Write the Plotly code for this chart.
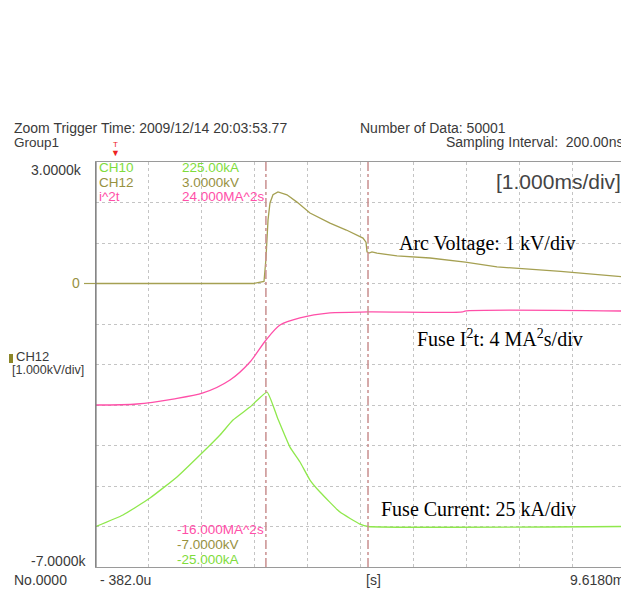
import plotly.graph_objects as go

# ---------------- data (time in ms) ----------------
volt_t = [-0.382, 1.0, 2.60, 2.794, 2.83, 2.87, 2.907, 2.964, 3.058, 3.228, 3.417, 3.663,
          4.041, 4.35, 4.609, 4.665, 4.722, 4.741, 4.779, 4.835, 4.93, 5.308, 5.932,
          6.6, 7.198, 8.4, 9.618]
volt_kv = [0.0, 0.0, 0.0, 0.05, 0.6, 1.57, 1.99, 2.19, 2.26, 2.19, 2.01, 1.74,
           1.49, 1.32, 1.15, 1.12, 1.02, 0.78, 0.75, 0.78, 0.75, 0.68, 0.63,
           0.53, 0.41, 0.30, 0.16]

i2t_t = [-0.382, 0.393, 1.074, 1.641, 2.151, 2.529, 2.832, 3.096, 3.474, 4.041, 4.76, 6.55, 6.59, 9.618]
i2t_v = [0.0, 0.1, 0.59, 1.19, 2.47, 4.25, 6.42, 7.9, 8.6, 9.09, 9.19, 9.19, 9.28, 9.28]

cur_t = [-0.382, 0.128, 0.639, 1.149, 1.641, 1.962, 2.208, 2.529, 2.851, 3.05, 3.285,
         3.474, 3.663, 3.852, 4.23, 4.608, 4.76, 9.618]
cur_ka = [0.0, 7.1, 17.6, 30.6, 46.0, 56.5, 65.7, 73.7, 83.0, 67.0, 49.0,
          39.8, 28.7, 21.3, 8.9, 1.5, 0.0, 0.0]

cursor_t = [2.83, 4.76]

x_range = [-0.382, 9.618]
v_range = [-7, 3]
i_range = [-25, 225]
q_range = [-16, 24]

GREEN = "#8fe84c"
GREEN_T = "#7fdc3c"
OLIVE = "#a5a052"
OLIVE_T = "#97913f"
PINK = "#ff4fa8"
GRAY_T = "#3a3a3a"
SANS = "Liberation Sans"
SERIF = "Liberation Serif"

# page offset (browser body margin)
OFF = 8
W, H = 629, 594
L, R, T, B = 96, 625, 162, 567   # plot area in window pixels

fig = go.Figure()
fig.add_trace(go.Scatter(x=cur_t, y=cur_ka, yaxis="y2", mode="lines",
                         line=dict(color=GREEN, width=1.3, shape="spline", smoothing=0.4),
                         hoverinfo="skip"))
fig.add_trace(go.Scatter(x=i2t_t, y=i2t_v, yaxis="y3", mode="lines",
                         line=dict(color=PINK, width=1.3, shape="spline", smoothing=0.8),
                         hoverinfo="skip"))
fig.add_trace(go.Scatter(x=volt_t, y=volt_kv, mode="lines",
                         line=dict(color=OLIVE, width=1.3), hoverinfo="skip"))

for ct in cursor_t:
    fig.add_vline(x=ct, line=dict(color="#c98f8f", width=1.5, dash="dashdot"), layer="above")


def px(x):
    return (x - L) / (R - L)


def py(y):
    return (B - y) / (B - T)


# zero marker line on left
fig.add_shape(type="line", xref="paper", yref="y", x0=px(84), x1=0, y0=0, y1=0,
              line=dict(color=OLIVE, width=1.2))
# darker left frame edge
fig.add_shape(type="line", xref="paper", yref="paper", x0=0, x1=0, y0=0, y1=1,
              line=dict(color="#7a7a7a", width=1.2))
# CH12 colour marker
fig.add_shape(type="rect", xref="paper", yref="paper", x0=px(9), x1=px(13),
              y0=py(363), y1=py(354), fillcolor="#8c8628", line=dict(width=0))

ann = []


def A(text, x, y, color=GRAY_T, size=13, xanchor="left", family=SANS):
    ann.append(dict(text=text, x=px(x), y=py(y), xref="paper", yref="paper",
                    xanchor=xanchor, yanchor="middle", showarrow=False, align="left",
                    font=dict(family=family, size=size, color=color)))


A("Zoom Trigger Time: 2009/12/14 20:03:53.77", 12, 128, size=14)
A("Group1", 12, 142, size=13.5)
A("Number of Data: 50001", 358, 128, size=14)
A("Sampling Interval:  200.00ns", 625, 142, size=14, xanchor="right")
A("T", 115, 145, color="#ee2222", size=8, xanchor="center")
A("▼", 115, 153, color="#ee2222", size=9, xanchor="center")

A("3.0000k", 84, 170, size=14, xanchor="right")
A("0", 82, 283, color=OLIVE_T, size=14, xanchor="right")
A("CH12", 14, 356, size=13)
A("[1.000kV/div]", 10, 370, size=12.5)
A("-7.0000k", 88, 561, size=14, xanchor="right")
A("No.0000", 12, 580, size=14)
A("- 382.0u", 98, 580, size=14)
A("[s]", 373, 580, size=14, xanchor="center")
A("9.6180m", 626, 580, size=14, xanchor="right")

A("CH10", 97, 167, color=GREEN_T, size=13.5)
A("225.00kA", 180, 167, color=GREEN_T, size=13.5)
A("CH12", 97, 182, color=OLIVE_T, size=13.5)
A("3.0000kV", 180, 182, color=OLIVE_T, size=13.5)
A("i^2t", 97, 196, color=PINK, size=13.5)
A("24.000MA^2s", 180, 196, color=PINK, size=13.5)
A("-16.000MA^2s", 175, 529, color=PINK, size=13.5)
A("-7.0000kV", 175, 544, color=OLIVE_T, size=13.5)
A("-25.000kA", 175, 559, color=GREEN_T, size=13.5)

A("[1.000ms/div]", 623, 181, size=21, xanchor="right", color="#444444")

A("Arc Voltage: 1 kV/div", 397, 243, color="#000000", size=20, family=SERIF)
A("Fuse I<sup>2</sup>t: 4 MA<sup>2</sup>s/div", 415, 338, color="#000000", size=20, family=SERIF)
A("Fuse Current: 25 kA/div", 379, 509, color="#000000", size=20, family=SERIF)

grid = dict(showgrid=True, gridcolor="#c4c4c4", gridwidth=1, griddash="dot",
            zeroline=False, showticklabels=False, ticks="",
            showline=True, linecolor="#9a9a9a", linewidth=1, mirror=True)

FW, FH = W - OFF, H - OFF
fig.update_layout(
    width=FW, height=FH,
    margin=dict(l=L - OFF, r=FW - (R - OFF), t=T - OFF, b=FH - (B - OFF), pad=0),
    paper_bgcolor="white", plot_bgcolor="white",
    showlegend=False,
    xaxis=dict(range=x_range, tick0=x_range[0], dtick=1, **grid),
    yaxis=dict(range=v_range, tick0=-7, dtick=1, **grid),
    yaxis2=dict(range=i_range, overlaying="y", visible=False),
    yaxis3=dict(range=q_range, overlaying="y", visible=False),
    annotations=ann,
)

fig.write_html("out.html")
